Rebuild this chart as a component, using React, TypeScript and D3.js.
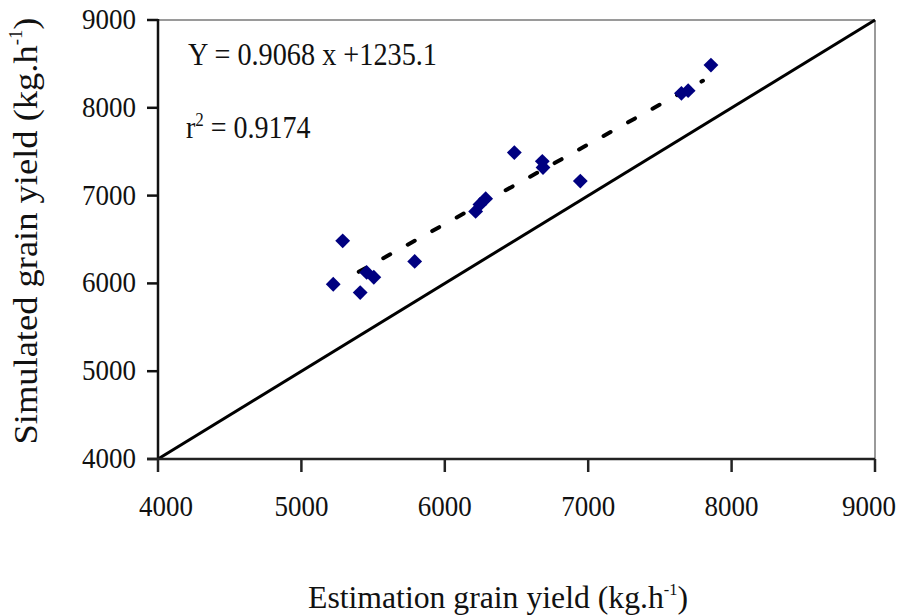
import * as d3 from 'd3'

// observed (estimation) vs simulated grain yield, kg/ha
const estimated = [5222, 5288, 5410, 5455, 5505, 5790, 6215, 6245, 6285, 6485, 6680, 6685, 6945, 7650, 7697, 7856]
const simulated = [5990, 6485, 5895, 6125, 6070, 6250, 6820, 6900, 6965, 7490, 7390, 7320, 7165, 8165, 8195, 8487]

const xTicks = [4000, 5000, 6000, 7000, 8000, 9000]
const yTicks = [4000, 5000, 6000, 7000, 8000, 9000]

// regression
const slope = 0.9068
const intercept = 1235.1
const trendRange = [5400, 7800]
const oneToOne = [4000, 9000]

const W = 897
const H = 615
const FONT = '"Liberation Serif", "Times New Roman", serif'

export default function App() {
  const x = d3.scaleLinear().domain([4000, 9000]).range([158, 875])
  const y = d3.scaleLinear().domain([4000, 9000]).range([459, 20])

  const line = d3.line<number[]>()
    .x(d => x(d[0]))
    .y(d => y(d[1]))

  const diagonal = line(oneToOne.map(v => [v, v]))
  const trend = line(trendRange.map(v => [v, slope * v + intercept]))
  const diamond = d3.symbol().type(d3.symbolSquare).size(110)()

  const [x0, x1] = x.range()
  const [y0, y1] = y.range()

  return (
    <svg width={W} height={H} style={{ position: 'absolute', left: 0, top: 0, background: '#fff' }}>
      {/* frame: top / right light grey */}
      <line x1={x0} x2={x1} y1={y1} y2={y1} stroke="#9a9a9a" strokeWidth={2} />
      <line x1={x1} x2={x1} y1={y1} y2={y0} stroke="#9a9a9a" strokeWidth={2} />

      {/* 1:1 line */}
      <path d={diagonal ?? ''} fill="none" stroke="#000" strokeWidth={3} />

      {/* regression line */}
      <path d={trend ?? ''} fill="none" stroke="#000" strokeWidth={4}
        strokeDasharray="8,20" strokeLinecap="round" />

      {/* points */}
      {estimated.map((e, i) => (
        <path key={i} d={diamond ?? ''} fill="#000080"
          transform={`translate(${x(e)},${y(simulated[i])}) rotate(45)`} />
      ))}

      {/* y axis */}
      <line x1={x0} x2={x0} y1={y1 - 1} y2={y0} stroke="#111" strokeWidth={2.5} />
      {yTicks.map(t => (
        <g key={t}>
          <line x1={x0 - 11} x2={x0} y1={y(t)} y2={y(t)} stroke="#111" strokeWidth={2.5} />
          <text transform={`translate(${x0 - 22},${y(t) + 9}) scale(1,1.1)`} textAnchor="end"
            fontFamily={FONT} fontSize={27} fill="#111">{t}</text>
        </g>
      ))}

      {/* x axis */}
      <line x1={x0 - 11} x2={x1} y1={y0} y2={y0} stroke="#222" strokeWidth={2.5} />
      {xTicks.map((t, i) => {
        const last = i === xTicks.length - 1
        return (
          <g key={t}>
            <line x1={x(t)} x2={x(t)} y1={y0} y2={y0 + 13} stroke="#222" strokeWidth={2.5} />
            <text transform={`translate(${last ? W - 1 : x(t) + (i === 0 ? 8 : 0)},${y0 + 57}) scale(1,1.1)`}
              textAnchor={last ? 'end' : 'middle'}
              fontFamily={FONT} fontSize={27} fill="#111">{t}</text>
          </g>
        )
      })}

      {/* equation */}
      <text transform="translate(188,65) scale(1,1.1)" fontFamily={FONT} fontSize={28}
        textLength={249} lengthAdjust="spacingAndGlyphs" fill="#111">
        Y = 0.9068 x +1235.1
      </text>
      <text transform="translate(186,138) scale(1,1.1)" fontFamily={FONT} fontSize={28} fill="#111">
        r<tspan fontSize={17} dy={-11}>2</tspan><tspan dy={11}> = 0.9174</tspan>
      </text>

      {/* axis titles */}
      <text transform="translate(498,608) scale(1,1.1)" textAnchor="middle" fontFamily={FONT}
        fontSize={29} fill="#111" textLength={380} lengthAdjust="spacingAndGlyphs">
        Estimation grain yield (kg.h<tspan fontSize={15} dy={-12}>-1</tspan><tspan dy={12}>)</tspan>
      </text>
      <text transform="translate(37,231) rotate(-90) scale(1,1.12)" textAnchor="middle" fontFamily={FONT}
        fontSize={31} fill="#111" textLength={427} lengthAdjust="spacingAndGlyphs">
        Simulated grain yield (kg.h<tspan fontSize={16} dy={-13}>-1</tspan><tspan dy={13}>)</tspan>
      </text>
    </svg>
  )
}
